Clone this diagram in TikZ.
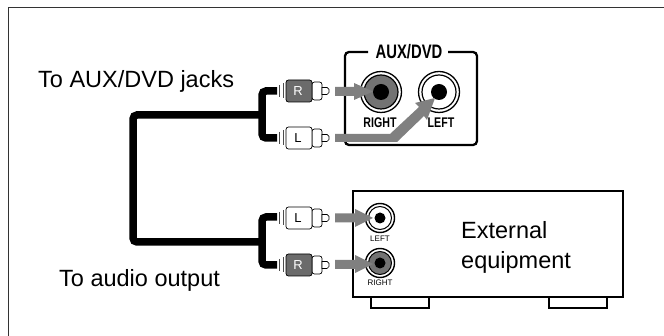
\documentclass[tikz,border=0pt]{standalone}
\usepackage{fontspec}
\setmainfont{Liberation Sans}
\newfontfamily\narrowf[FakeStretch=0.76]{Liberation Sans}
\begin{document}
\begin{tikzpicture}[x=1pt,y=-1pt,
  frameline/.style={draw=black!80,line width=0.8pt},
  cable/.style={draw=black,line width=7.5pt,rounded corners=4pt},
  arrowbody/.style={fill=black!50,draw=none},
  lab/.style={font=\fontsize{23.5}{26}\selectfont,inner sep=0pt,anchor=base west},
  pnl/.style={font=\narrowf\bfseries\fontsize{14}{15}\selectfont,inner sep=0pt},
  small/.style={font=\fontsize{8}{9}\selectfont,inner sep=0pt},
  plugbody/.style={draw=black,line width=0.7pt,rounded corners=2.5pt},
  thinl/.style={draw=black!70,line width=0.7pt}]
\useasboundingbox (0,0) rectangle (664,336);
\draw[frameline] (8,336) -- (8,7) -- (664,7);
% plug macro: #1 centre y, #2 fill, #3 text colour, #4 letter
\newcommand{\plugat}[4]{%
  \draw[thinl] (279,#1-6) -- (279,#1+6) (283,#1-7.5) -- (283,#1+7.5);
  \draw[plugbody,fill=white] (312,#1-9) -- (322,#1-9) -- (322,#1+9) -- (312,#1+9) -- cycle;
  \draw[plugbody,fill=#2] (286,#1-11) rectangle (312,#1+11);
  \node[font=\fontsize{13}{14}\selectfont,text=#3,inner sep=0pt] at (298,#1) {#4};
  \draw[draw=black,fill=white,line width=0.7pt] (322,#1-3.5) -- (327,#1-3.5) -- (329,#1-1.5) -- (329,#1+1.5) -- (327,#1+3.5) -- (322,#1+3.5) -- cycle;
}
% cables
\coordinate (top) at (277,91);
\coordinate (topb) at (277,138);
\coordinate (botb) at (277,265);
\coordinate (bot) at (277,217);
\coordinate (jt) at (262,115);
\coordinate (jb) at (262,242);
\draw[cable] (top) -- (262,91) -- (262,138) -- (topb);
\draw[cable] (bot) -- (262,217) -- (262,265) -- (botb);
\draw[cable] (jt) -- (133,115) -- (133,242) -- (jb);
\plugat{91}{black!58}{white}{R}
\plugat{138}{white}{black}{L}
\plugat{218}{white}{black}{L}
\plugat{265}{black!58}{white}{R}
% AUX panel
\draw[draw=black,line width=2.3pt,rounded corners=4pt] (368,52) -- (345,52) -- (345,145) -- (477,145) -- (477,52) -- (448,52);
\node[pnl,font=\narrowf\bfseries\fontsize{19.5}{20}\selectfont] (auxt) at (409,52) {AUX/DVD};
\node[pnl] (rt) at (380,123) {RIGHT};
\node[pnl] (lt) at (441,123) {LEFT};
\node[circle,draw=black,line width=1.3pt,minimum size=41pt,inner sep=0pt] (jr) at (381,92) {};
\node[circle,draw=black,line width=1.2pt,fill=black!55,minimum size=34pt,inner sep=0pt] at (381,92) {};
\node[circle,fill=black,minimum size=16pt,inner sep=0pt] at (381,92) {};
\node[circle,draw=black,line width=1.3pt,minimum size=41pt,inner sep=0pt] (jl) at (439,92) {};
\node[circle,draw=black,line width=1.2pt,fill=white,minimum size=34pt,inner sep=0pt] at (439,92) {};
\node[circle,fill=black,minimum size=16pt,inner sep=0pt] at (439,92) {};
% External box
\draw[draw=black,line width=1.8pt] (353,191) rectangle (623,297);
\draw[draw=black,line width=1.5pt] (371,297) -- (371,308) -- (429,308) -- (429,297);
\draw[draw=black,line width=1.5pt] (549,297) -- (549,308) -- (607,308) -- (607,297);
\node[circle,draw=black,line width=1.4pt,minimum size=29pt,inner sep=0pt] at (380,218) {};
\node[circle,draw=black,line width=1pt,fill=white,minimum size=23pt,inner sep=0pt] at (380,218) {};
\node[circle,fill=black,minimum size=11pt,inner sep=0pt] at (380,218) {};
\node[circle,draw=black,line width=1.4pt,minimum size=29pt,inner sep=0pt] at (380,263) {};
\node[circle,draw=black,line width=1pt,fill=black!55,minimum size=23pt,inner sep=0pt] at (380,263) {};
\node[circle,fill=black,minimum size=11pt,inner sep=0pt] at (380,263) {};
\node[small] (ll) at (380,239) {LEFT};
\node[small] (rr) at (380,283) {RIGHT};
% Arrows
\fill[arrowbody] (335,87) -- (354,87) -- (354,83) -- (373,91.5) -- (354,100) -- (354,96) -- (335,96) -- cycle;
\fill[arrowbody] (335,134) -- (390,134) -- (419,107) -- (415,103) -- (435,98) -- (427,120) -- (424,116) -- (397,142) -- (335,142) -- cycle;
\fill[arrowbody] (335,213.5) -- (355,213.5) -- (355,209) -- (373,218) -- (355,227) -- (355,222.5) -- (335,222.5) -- cycle;
\fill[arrowbody] (335,260) -- (355,260) -- (355,255) -- (373,264) -- (355,273) -- (355,269) -- (335,269) -- cycle;
% labels
\node[lab] (la) at (38,88) {To AUX/DVD jacks};
\node[lab] (lb) at (59,287) {To audio output};
\node[lab] (le) at (461,239) {External};
\node[lab] (lf) at (461,269) {equipment};
\end{tikzpicture}
\end{document}
